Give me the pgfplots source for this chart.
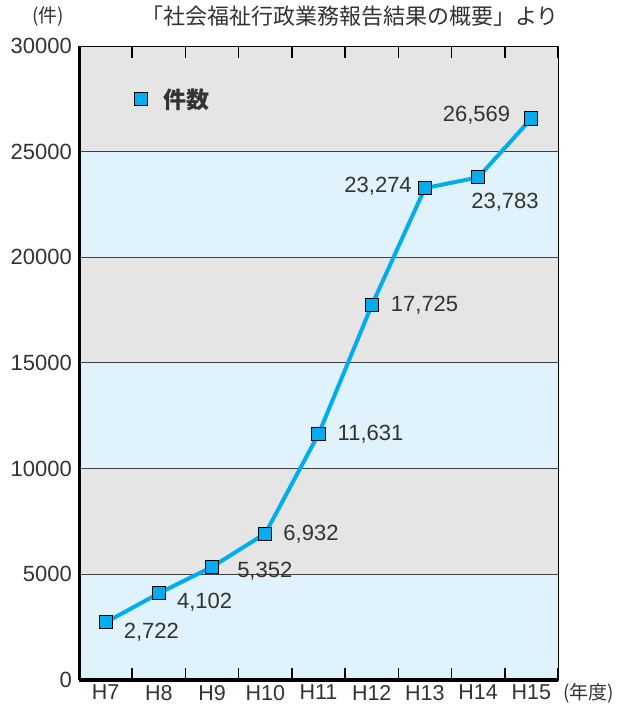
\documentclass[border=0pt]{standalone}
\usepackage{fontspec}
\setmainfont{Liberation Sans}
\newfontfamily\cjk{Noto Sans CJK JP}
\usepackage{pgfplots}
\pgfplotsset{compat=1.18}
\definecolor{bandgray}{HTML}{E5E5E5}
\definecolor{bandblue}{HTML}{E0F3FC}
\definecolor{linecyan}{HTML}{00ADEF}
\definecolor{txt}{HTML}{333333}
\begin{document}
\begin{tikzpicture}[x=1pt,y=1pt]
\useasboundingbox (0,0) rectangle (621,711);
\begin{axis}[
  at={(79pt,31pt)}, anchor=south west,
  scale only axis, width=479pt, height=634pt,
  xmin=-0.5, xmax=8.5, ymin=0, ymax=30000,
  axis on top,
  xtick={0,...,8},
  xticklabels={H7,H8,H9,H10,H11,H12,H13,H14,H15},
  minor xtick={0.5,1.5,...,8.5},
  ytick={0,5000,...,30000},
  major tick length=0pt,
  minor tick length=12pt,
  tick align=inside,
  minor tick style={black, line width=1.6pt},
  axis line style={black, line width=0.8pt},
  scaled y ticks=false,
  /pgf/number format/.cd, set thousands separator={}, assume math mode=true,
  /pgfplots/.cd,
  yticklabel style={font=\fontsize{22}{22}\selectfont, text=txt, inner sep=0pt, xshift=-7pt},
  xticklabel style={font=\fontsize{21.5}{21.5}\selectfont, text=txt, inner sep=0pt, yshift=-5pt},
  clip=false,
  legend style={draw=none, fill=none, at={(axis description cs:0.115,0.916)}, anchor=west, inner sep=0pt,
    font=\cjk\bfseries\fontsize{23}{23}\selectfont, text=txt},
  legend image code/.code={\draw[fill=linecyan, draw=black, line width=1pt] (-6.5pt,-6.5pt) rectangle (6.5pt,6.5pt);},
]
\fill[bandblue] (axis cs:-0.5,0) rectangle (axis cs:8.5,30000);
\fill[bandgray] (axis cs:-0.5,5000) rectangle (axis cs:8.5,10000);
\fill[bandgray] (axis cs:-0.5,15000) rectangle (axis cs:8.5,20000);
\fill[bandgray] (axis cs:-0.5,25000) rectangle (axis cs:8.5,30000);
\draw[black!75, line width=1pt] (axis cs:-0.5,5000) -- (axis cs:8.5,5000);
\draw[black!75, line width=1pt] (axis cs:-0.5,10000) -- (axis cs:8.5,10000);
\draw[black!75, line width=1pt] (axis cs:-0.5,15000) -- (axis cs:8.5,15000);
\draw[black!75, line width=1pt] (axis cs:-0.5,20000) -- (axis cs:8.5,20000);
\draw[black!75, line width=1pt] (axis cs:-0.5,25000) -- (axis cs:8.5,25000);
\draw[black, line width=3pt] (rel axis cs:0,0) -- (rel axis cs:0,1);
\draw[black, line width=3pt] (rel axis cs:0,0) -- (rel axis cs:1,0);
\addplot[linecyan, line width=4pt, mark=square*,
  mark options={fill=linecyan, draw=black, line width=1pt, solid}, mark size=6.5pt]
  coordinates {(0,2722) (1,4102) (2,5352) (3,6932) (4,11631) (5,17725) (6,23274) (7,23783) (8,26569)};
\addlegendentry{\hspace{13pt}件数}
\begin{scope}[every node/.style={font=\fontsize{22}{22}\selectfont, text=txt, inner sep=0pt}]
\node[anchor=west] at (axis cs:0,2722) [xshift=18pt, yshift=-10pt] {2,722};
\node[anchor=west] at (axis cs:1,4102) [xshift=18pt, yshift=-9pt] {4,102};
\node[anchor=west] at (axis cs:2,5352) [xshift=25pt, yshift=-4pt] {5,352};
\node[anchor=west] at (axis cs:3,6932) [xshift=18pt, yshift=-1pt] {6,932};
\node[anchor=west] at (axis cs:4,11631) [xshift=19pt, yshift=0pt] {11,631};
\node[anchor=west] at (axis cs:5,17725) [xshift=19pt, yshift=0pt] {17,725};
\node[anchor=east] at (axis cs:6,23274) [xshift=-13pt, yshift=2pt] {23,274};
\node[anchor=west] at (axis cs:7,23783) [xshift=-7pt, yshift=-25pt] {23,783};
\node[anchor=east] at (axis cs:8,26569) [xshift=-21pt, yshift=3pt] {26,569};
\end{scope}
\end{axis}
\node[anchor=center, font=\cjk\fontsize{19}{19}\selectfont, text=txt] at (48,695) {(件)};
\node[anchor=center, font=\cjk\fontsize{22}{22}\selectfont, text=txt] at (350,695) {「社会福祉行政業務報告結果の概要」より};
\node[anchor=west, font=\cjk\fontsize{19}{19}\selectfont, text=txt, inner sep=0pt] at (563,18) {(年度)};
\end{tikzpicture}
\end{document}
